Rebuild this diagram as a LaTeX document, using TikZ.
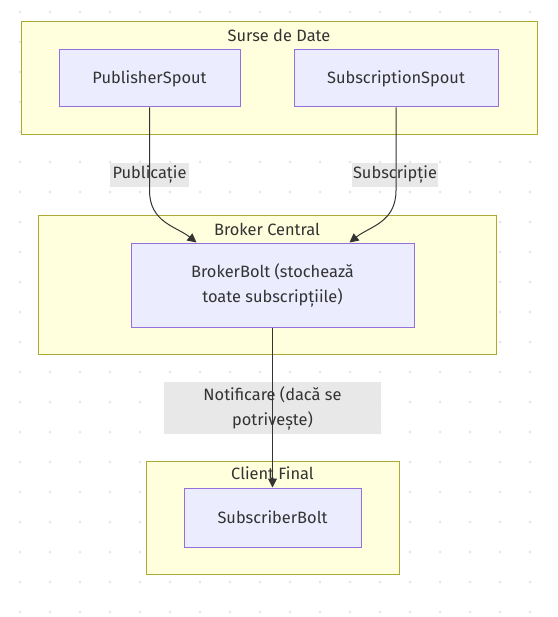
\documentclass[tikz,border=0pt]{standalone}
\usepackage{fontspec}
\setmainfont{Fira Sans}
\usetikzlibrary{arrows.meta,calc}
\definecolor{clfill}{HTML}{FFFFDE}
\definecolor{clstroke}{HTML}{AAAA33}
\definecolor{ndfill}{HTML}{ECECFF}
\definecolor{ndstroke}{HTML}{9370DB}
\definecolor{txt}{HTML}{333333}
\definecolor{lblfill}{HTML}{E8E8E8}
\definecolor{dotc}{HTML}{E6E6E6}
\tikzset{
  cluster/.style={draw=clstroke, fill=clfill, line width=1pt, rectangle, inner sep=0pt},
  proc/.style={draw=ndstroke, fill=ndfill, line width=1pt, rectangle, inner sep=0pt, align=center},
  ctitle/.style={inner sep=0pt, text=txt},
  elabel/.style={fill=lblfill, inner sep=0pt, align=center, text=txt},
  edge/.style={draw=txt, line width=1pt, -{Triangle[length=9pt,width=9pt]}},
}
\begin{document}
\begin{tikzpicture}[x=1pt,y=-1pt, font=\fontsize{16.4}{25}\selectfont, text=txt]
\useasboundingbox (0,0) rectangle (557,617);
\fill[white] (0,0) rectangle (557,617);
\foreach \i in {0,...,17} {\foreach \j in {0,...,20} {\fill[dotc] (20+30*\i, 12+30*\j) circle[radius=1.5pt];}}
% clusters
\node[cluster, minimum width=516pt, minimum height=113pt] (srcs) at (279,78.5) {};
\node[ctitle] (srcsT) at (279,35) {Surse de Date};
\node[cluster, minimum width=458pt, minimum height=138pt] (brk) at (267,285) {};
\node[ctitle] (brkT) at (267,229) {Broker Central};
\node[cluster, minimum width=253pt, minimum height=113pt] (cli) at (272.5,517.5) {};
\node[ctitle] (cliT) at (272.5,473) {Client Final};
% nodes
\node[proc, minimum width=181pt, minimum height=57pt] (pub) at (149.5,78.5) {PublisherSpout};
\node[proc, minimum width=204pt, minimum height=57pt] (sub) at (396,78.5) {SubscriptionSpout};
\node[proc, minimum width=283pt, minimum height=84pt] (broker) at (272.5,285) {BrokerBolt (stochează\\toate subscripțiile)};
\node[proc, minimum width=177pt, minimum height=59pt] (subb) at (272.5,517.5) {SubscriberBolt};
% edge labels
\node[elabel, minimum width=79pt, minimum height=24pt] (lpub) at (149.5,175) {Publicație};
\node[elabel, minimum width=86pt, minimum height=24pt] (lsub) at (395,175) {Subscripție};
\node[elabel, minimum width=217pt, minimum height=52pt] (lnot) at (272.5,408) {Notificare (dacă se\\potrivește)};
% edges
\draw[edge] (pub.south) -- ++(0,83) .. controls +(0,32) and +(-20,-16) .. ($(broker.north west)+(66,0)$);
\draw[edge] (sub.south) -- ++(0,83) .. controls +(0,32) and +(20,-16) .. ($(broker.north west)+(219,0)$);
\draw[edge] (broker.south) -- (subb.north);
\end{tikzpicture}
\end{document}
